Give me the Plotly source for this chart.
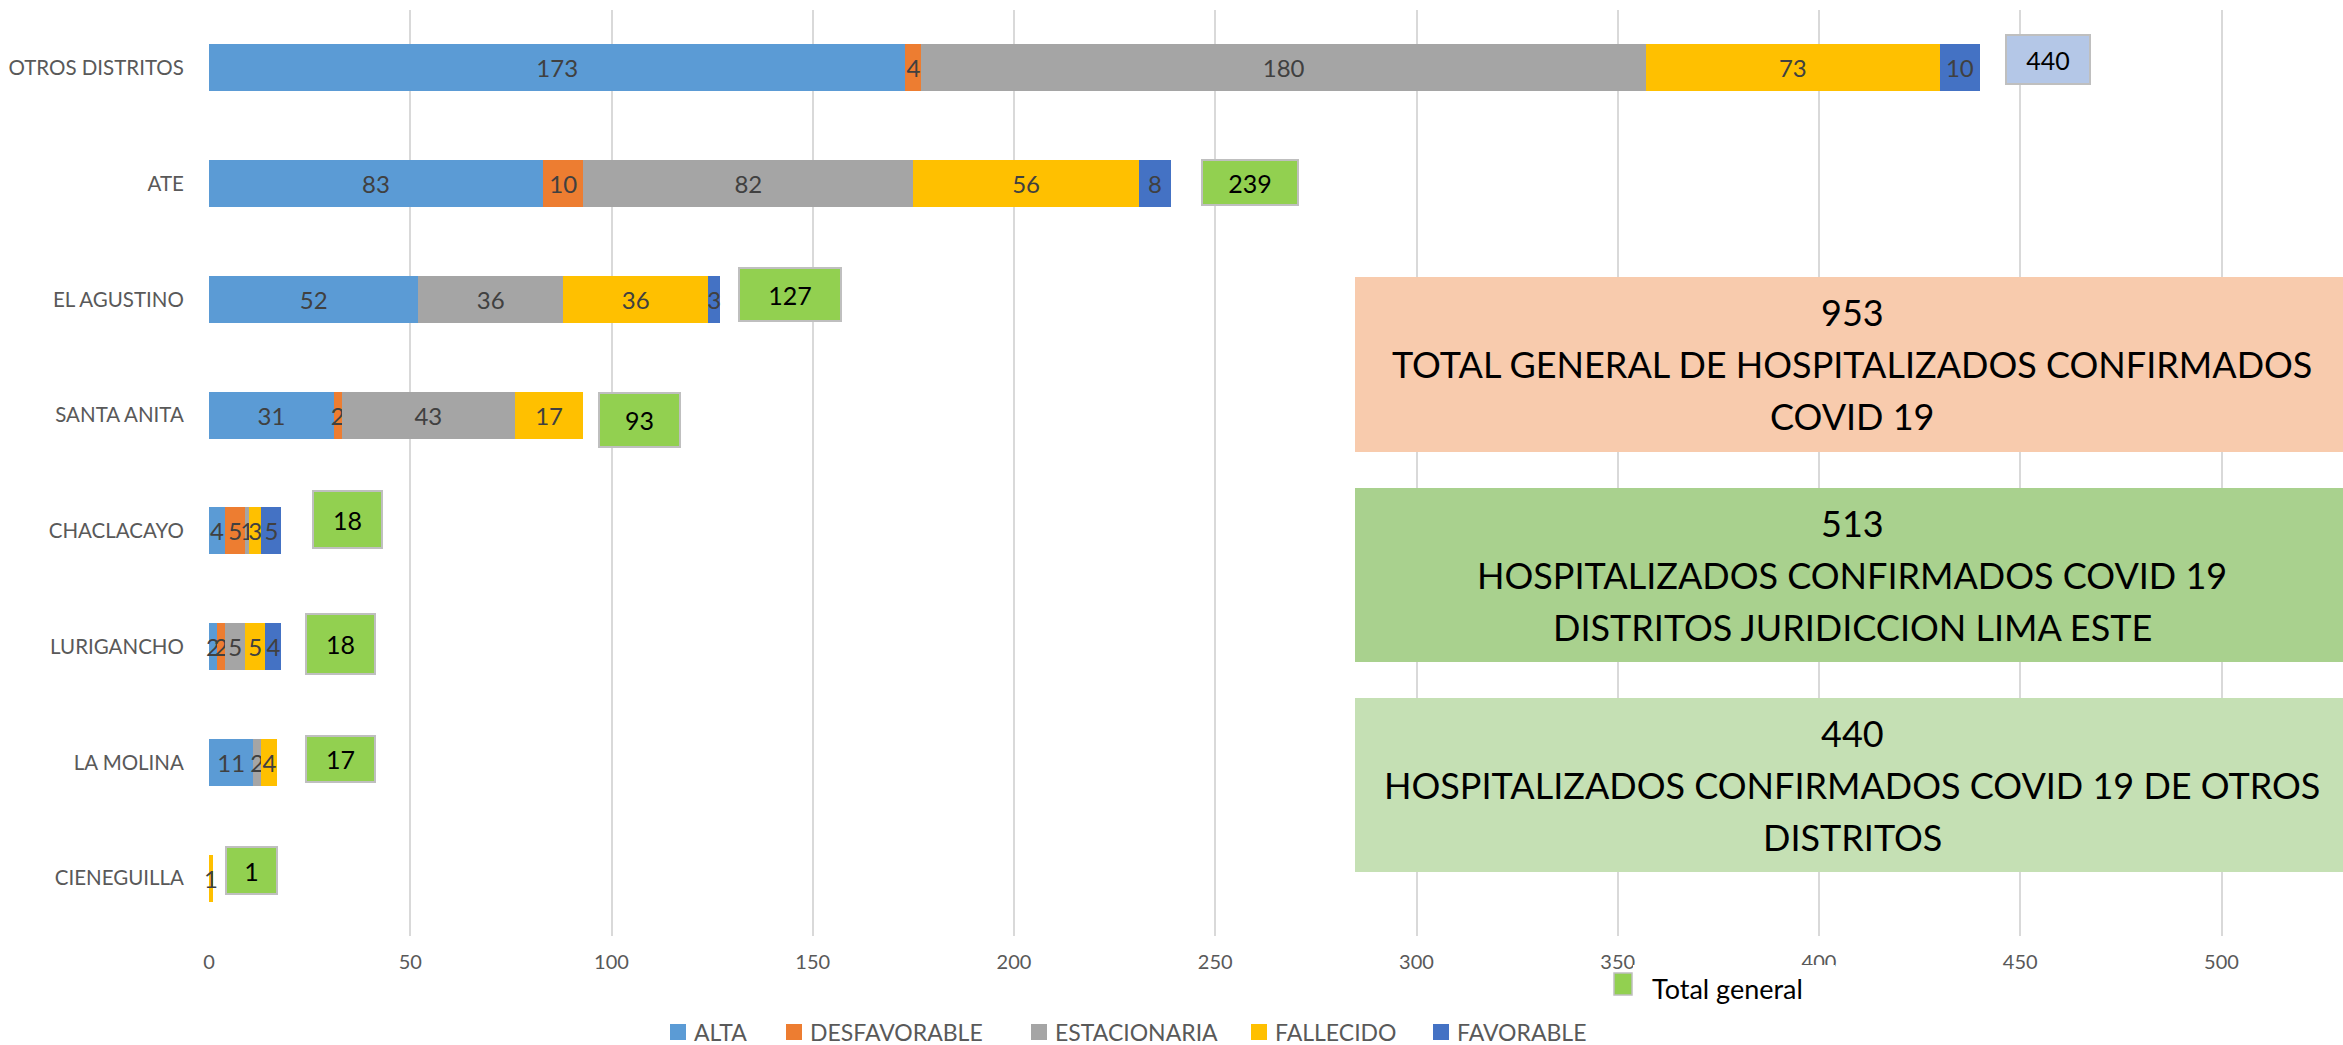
import plotly.graph_objects as go

# ---------------- data ----------------
districts = ["OTROS DISTRITOS", "ATE", "EL AGUSTINO", "SANTA ANITA",
             "CHACLACAYO", "LURIGANCHO", "LA MOLINA", "CIENEGUILLA"]
alta = [173, 83, 52, 31, 4, 2, 11, 0]
desfavorable = [4, 10, 0, 2, 5, 2, 0, 0]
estacionaria = [180, 82, 36, 43, 1, 5, 2, 0]
fallecido = [73, 56, 36, 17, 3, 5, 4, 1]
favorable = [10, 8, 3, 0, 5, 4, 0, 0]
series_names = ["ALTA", "DESFAVORABLE", "ESTACIONARIA", "FALLECIDO", "FAVORABLE"]
x_ticks = [0, 50, 100, 150, 200, 250, 300, 350, 400, 450, 500]

series_values = [alta, desfavorable, estacionaria, fallecido, favorable]
totals = [sum(v) for v in zip(*series_values)]
grand_total = sum(totals)
otros_total = totals[districts.index("OTROS DISTRITOS")]
lima_este_total = grand_total - otros_total

# ---------------- style ----------------
FONT = "Lato, 'Open Sans', sans-serif"
colors = ["#5B9BD5", "#ED7D31", "#A5A5A5", "#FFC000", "#4472C4"]
W, H = 2343, 1045
ML, MR, MT, MB = 209, 0, 10, 109
PW, PH = W - ML - MR, H - MT - MB
X_MAX = PW / 4.025


def px(xp):
    return (xp - ML) / PW


def py(yp):
    return (H - MB - yp) / PH


# total label boxes: (x shift px, y shift px, width, height, bg)
box_style = [
    (25, 8, 86, 51, "#B4C7E7"),
    (30, 1, 98, 47, "#92D050"),
    (18, 5, 104, 55, "#92D050"),
    (15, -5, 83, 56, "#92D050"),
    (31, 11, 71, 59, "#92D050"),
    (24, 3, 71, 62, "#92D050"),
    (28, 3, 71, 48, "#92D050"),
    (12, 8, 53, 49, "#92D050"),
]

fig = go.Figure()
for name, vals, col in zip(series_names, series_values, colors):
    fig.add_trace(go.Bar(
        y=districts, x=vals, orientation="h", name=name,
        marker=dict(color=col, line=dict(width=0)),
        text=[str(v) if v else "" for v in vals],
        textposition="inside", insidetextanchor="middle",
        constraintext="none", textangle=0,
        textfont=dict(family=FONT, size=24, color="#404040"),
        cliponaxis=False, showlegend=False, hoverinfo="x+y+name",
    ))

annotations = []
for d, t, (xs, ys, bw, bh, bg) in zip(districts, totals, box_style):
    annotations.append(dict(
        x=t, y=d, xref="x", yref="y", xanchor="left", yanchor="middle",
        xshift=xs, yshift=ys, width=bw - 4, height=bh - 4,
        text=str(t), showarrow=False, bgcolor=bg,
        bordercolor="#BFBFBF", borderwidth=2, borderpad=0,
        font=dict(family=FONT, size=25, color="#000000"),
    ))

shapes = []
# summary boxes
summary = [
    (277, 452, "#F8CBAD", [str(grand_total),
                           "TOTAL GENERAL DE HOSPITALIZADOS CONFIRMADOS",
                           "COVID 19"]),
    (488, 662, "#A9D18E", [str(lima_este_total),
                           "HOSPITALIZADOS CONFIRMADOS COVID 19",
                           "DISTRITOS JURIDICCION LIMA ESTE"]),
    (698, 872, "#C5E0B4", [str(otros_total),
                           "HOSPITALIZADOS CONFIRMADOS COVID 19 DE OTROS",
                           "DISTRITOS"]),
]
for y0, y1, fill, lines in summary:
    shapes.append(dict(type="rect", xref="paper", yref="paper",
                       x0=px(1355), x1=1.02, y0=py(y1), y1=py(y0),
                       fillcolor=fill, line=dict(width=0), layer="above"))
    yc = (y0 + y1) / 2
    for i, line in enumerate(lines):
        annotations.append(dict(
            x=px(1852), y=py(yc + (i - 1) * 52), xref="paper", yref="paper",
            xanchor="center", yanchor="middle", text=line, showarrow=False,
            font=dict(family=FONT, size=36, color="#000000"),
        ))

# custom legend
leg_x = [670, 786, 1031, 1251, 1433]
for name, col, lx in zip(series_names, colors, leg_x):
    shapes.append(dict(type="rect", xref="paper", yref="paper",
                       x0=px(lx), x1=px(lx + 16), y0=py(1040), y1=py(1024),
                       fillcolor=col, line=dict(width=0), layer="above"))
    annotations.append(dict(
        x=px(lx + 22), y=py(1032), xref="paper", yref="paper",
        xanchor="left", yanchor="middle", text=name, showarrow=False,
        font=dict(family=FONT, size=23, color="#595959"),
    ))

# "Total general" legend (covers part of axis labels like in the original)
shapes.append(dict(type="rect", xref="paper", yref="paper",
                   x0=px(1633), x1=px(1835), y0=py(1012), y1=py(965),
                   fillcolor="white", line=dict(width=0), layer="above"))
shapes.append(dict(type="rect", xref="paper", yref="paper",
                   x0=px(1614), x1=px(1632), y0=py(995), y1=py(973),
                   fillcolor="#92D050", line=dict(width=1.5, color="#BFBFBF"),
                   layer="above"))
annotations.append(dict(
    x=px(1650), y=py(988), xref="paper", yref="paper",
    xanchor="left", yanchor="middle", text="Total general", showarrow=False,
    font=dict(family=FONT, size=27, color="#000000"),
))

fig.update_layout(
    width=W, height=H, barmode="stack", bargap=0.594,
    margin=dict(l=ML, r=MR, t=MT, b=MB),
    plot_bgcolor="white", paper_bgcolor="white",
    font=dict(family=FONT, color="#595959"),
    xaxis=dict(range=[0, X_MAX], tickvals=x_ticks, showgrid=True,
               gridcolor="#D9D9D9", gridwidth=1.5, zeroline=False,
               showline=False, ticks="outside", ticklen=8,
               tickcolor="rgba(0,0,0,0)", automargin=False,
               tickfont=dict(family=FONT, size=20, color="#595959")),
    yaxis=dict(categoryorder="array", categoryarray=districts,
               autorange="reversed", showgrid=False, zeroline=False,
               showline=False, ticks="outside", ticklen=20,
               tickcolor="rgba(0,0,0,0)", automargin=False,
               tickfont=dict(family=FONT, size=20.5, color="#595959")),
    shapes=shapes, annotations=annotations, showlegend=False,
)

fig.write_html(
    "out.html",
    config={"displayModeBar": False},
    post_script="document.body.style.margin='0';"
                "document.body.style.overflow='hidden';",
)
